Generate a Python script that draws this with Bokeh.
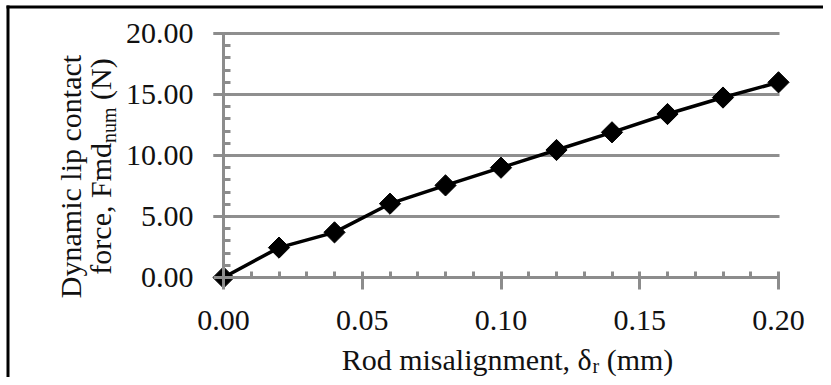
import numpy as np
from bokeh.plotting import figure
from bokeh.models import Range1d, Label, BoxAnnotation, SingleIntervalTicker, PrintfTickFormatter
from bokeh.embed import file_html
from bokeh.resources import INLINE

# ---- data ----
misalignment = [0.00, 0.02, 0.04, 0.06, 0.08, 0.10, 0.12, 0.14, 0.16, 0.18, 0.20]
force = [0.00, 2.45, 3.70, 6.05, 7.55, 9.00, 10.45, 11.90, 13.40, 14.75, 16.00]
x_tick_step = 0.05
y_tick_step = 5
x_title_main = "Rod misalignment, δ"
x_title_sub = "r"
x_title_tail = "(mm)"
y_title_line1 = "Dynamic lip contact"
y_title_main = "force, Fmd"
y_title_sub = "num"
y_title_tail = "(N)"

FONT = "Liberation Serif"
AX = "#8c8c8c"
TXT = "#111111"

W, H = 823, 377
# layout constants (pixels)
X0P, XS = 223.0, 2775.0      # px of x=0, px per unit
Y0P, YS = 277.0, 12.2        # px of y=0, px per unit


def px2x(px):
    return (px - X0P) / XS


def py2y(py):
    return (Y0P - py) / YS


p = figure(frame_width=W, frame_height=H,
           min_border_left=0, min_border_right=0,
           min_border_top=0, min_border_bottom=0,
           x_range=Range1d(px2x(0), px2x(W)),
           y_range=Range1d(py2y(H), py2y(0)),
           output_backend="svg", toolbar_location=None)
p.outline_line_color = None
p.background_fill_color = "white"
p.border_fill_color = "white"

# axes
xt = SingleIntervalTicker(interval=x_tick_step, num_minor_ticks=5)
yt = SingleIntervalTicker(interval=y_tick_step, num_minor_ticks=5)
p.xaxis.ticker = xt
p.yaxis.ticker = yt
p.xaxis.fixed_location = 0
p.yaxis.fixed_location = 0
p.xaxis.bounds = (0, 0.2)
p.yaxis.bounds = (0, 20)
p.xaxis.formatter = PrintfTickFormatter(format="%.2f")
p.yaxis.formatter = PrintfTickFormatter(format="%.2f")
for ax in (p.xaxis, p.yaxis):
    ax.axis_line_color = AX
    ax.axis_line_width = 3
    ax.major_tick_line_color = AX
    ax.major_tick_line_width = 3
    ax.minor_tick_line_color = AX
    ax.minor_tick_line_width = 3
    ax.major_label_text_font = FONT
    ax.major_label_text_font_size = "30px"
    ax.major_label_text_color = TXT
p.xaxis.major_label_standoff = 21
p.yaxis.major_label_standoff = 20
p.xaxis.major_tick_in = 5
p.xaxis.major_tick_out = 12
p.xaxis.minor_tick_in = 6
p.xaxis.minor_tick_out = 0
p.yaxis.major_tick_in = 0
p.yaxis.major_tick_out = 10
p.yaxis.minor_tick_in = 7
p.yaxis.minor_tick_out = 0

p.xgrid.visible = False
p.ygrid.ticker = yt
p.ygrid.bounds = (0, 20)
p.ygrid.cross_bounds = (px2x(213), px2x(779))
p.ygrid.grid_line_color = "#8f8f8f"
p.ygrid.grid_line_width = 3

# data
p.line(misalignment, force, line_color="black", line_width=3.5)
p.scatter(misalignment, force, marker="square", angle=np.pi / 4, size=15,
          fill_color="black", line_color="black")

# ---- titles ----
F = 30
FS = 20
def w(text, size):
    # Times metrics (Liberation Serif is metric compatible)
    m = {'R': 667, 'o': 500, 'd': 500, ' ': 250, 'm': 778, 'i': 278, 's': 389, 'a': 444,
         'l': 278, 'g': 500, 'n': 500, 'e': 444, 't': 278, ',': 250, 'δ': 500, 'r': 333,
         '(': 333, ')': 333, 'f': 333, 'c': 444, 'F': 556, 'u': 500, 'N': 722, 'D': 722,
         'y': 500, 'p': 500}
    return sum(m.get(ch, 500) for ch in text) * size / 1000.0

# x title
xF = 30
gap_x = w(" ", xF)
total = w(x_title_main, xF) + w(x_title_sub, FS) + gap_x + w(x_title_tail, xF)
x_start = 507 - total / 2
base = 359
p.add_layout(Label(x=px2x(x_start), y=py2y(base), text=x_title_main,
                   text_font=FONT, text_font_size=f"{xF}px", text_color=TXT,
                   text_align="left", text_baseline="alphabetic"))
xs = x_start + w(x_title_main, xF)
p.add_layout(Label(x=px2x(xs), y=py2y(base + 6), text=x_title_sub,
                   text_font=FONT, text_font_size=f"{FS}px", text_color=TXT,
                   text_align="left", text_baseline="alphabetic"))
xs += w(x_title_sub, FS) + gap_x
p.add_layout(Label(x=px2x(xs), y=py2y(base), text=x_title_tail,
                   text_font=FONT, text_font_size=f"{xF}px", text_color=TXT,
                   text_align="left", text_baseline="alphabetic"))

# y title line 1
p.add_layout(Label(x=px2x(70), y=py2y(176), text=y_title_line1, angle=np.pi / 2,
                   text_font=FONT, text_font_size=f"{F}px", text_color=TXT,
                   text_align="center", text_baseline="alphabetic"))
# y title line 2
gap_y = w(" ", F)
total2 = w(y_title_main, F) + w(y_title_sub, FS) + gap_y + w(y_title_tail, F)
ys = 166 + total2 / 2
p.add_layout(Label(x=px2x(100), y=py2y(ys), text=y_title_main, angle=np.pi / 2,
                   text_font=FONT, text_font_size=f"{F}px", text_color=TXT,
                   text_align="left", text_baseline="alphabetic"))
ys -= w(y_title_main, F)
p.add_layout(Label(x=px2x(108), y=py2y(ys), text=y_title_sub, angle=np.pi / 2,
                   text_font=FONT, text_font_size=f"{FS}px", text_color=TXT,
                   text_align="left", text_baseline="alphabetic"))
ys -= w(y_title_sub, FS) + gap_y
p.add_layout(Label(x=px2x(100), y=py2y(ys), text=y_title_tail, angle=np.pi / 2,
                   text_font=FONT, text_font_size=f"{F}px", text_color=TXT,
                   text_align="left", text_baseline="alphabetic"))

# chart border (top/left black)
p.add_layout(BoxAnnotation(left=px2x(6), right=px2x(W + 5), top=py2y(5), bottom=py2y(8),
                           fill_color="black", fill_alpha=1, line_color=None))
p.add_layout(BoxAnnotation(left=px2x(6), right=px2x(9), top=py2y(5), bottom=py2y(H + 5),
                           fill_color="black", fill_alpha=1, line_color=None))

open("out.html", "w").write(file_html(p, INLINE))
